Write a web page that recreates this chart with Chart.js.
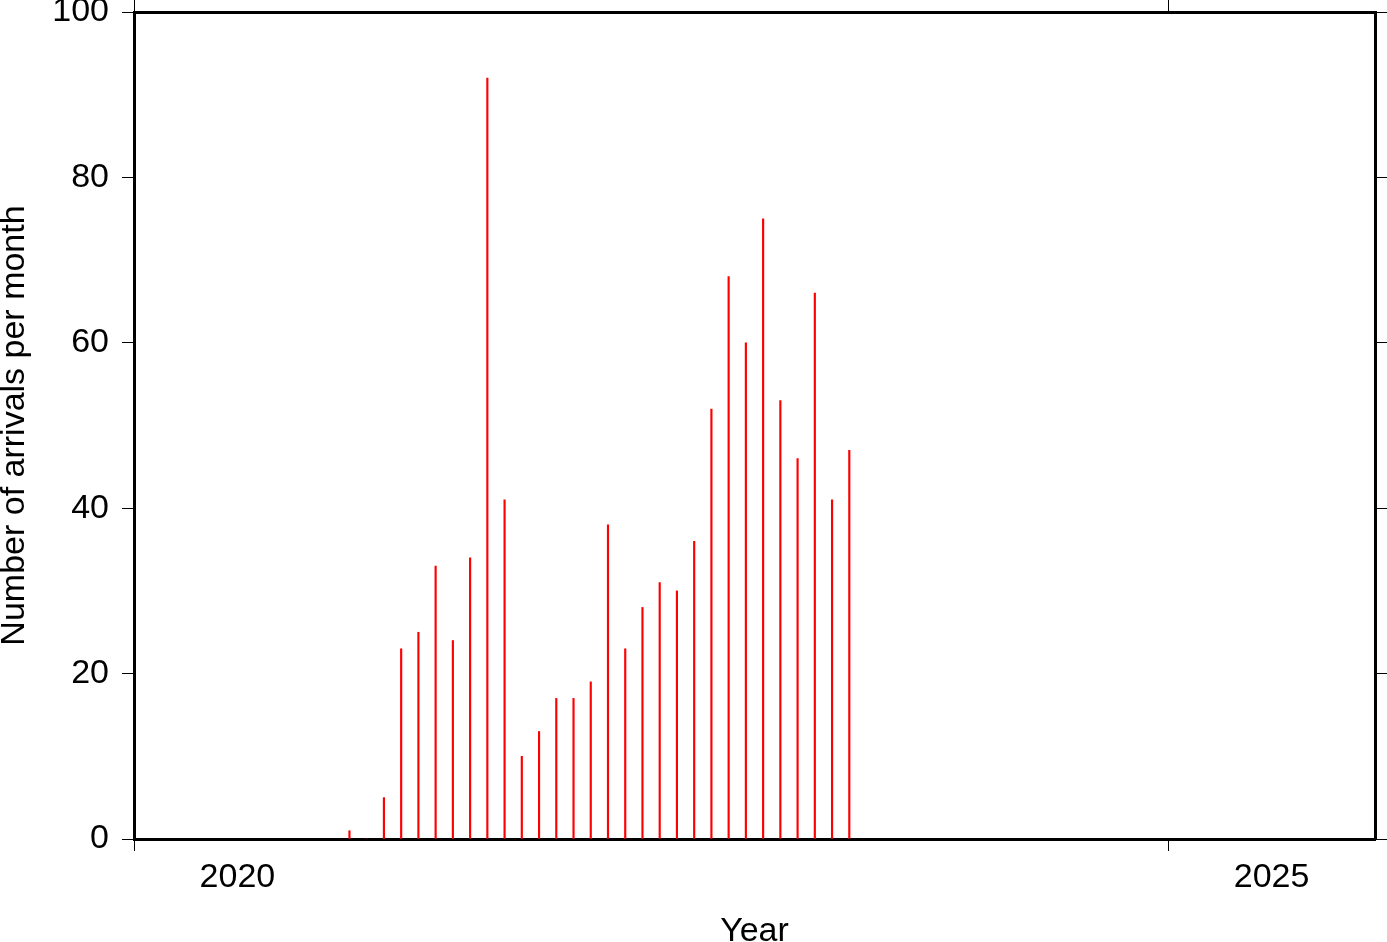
<!DOCTYPE html>
<html><head><meta charset="utf-8">
<script src="https://cdn.jsdelivr.net/npm/chart.js@4/dist/chart.umd.min.js"></script>
<style>html,body{margin:0;padding:0;background:#fff}#wrap{width:1387px;height:942px;position:relative}</style>
</head><body><div id="wrap"><canvas id="c"></canvas></div>
<script>
// ---- data ----
const months = ['2021-01','2021-02','2021-03','2021-04','2021-05','2021-06','2021-07','2021-08','2021-09','2021-10','2021-11','2021-12',
                '2022-01','2022-02','2022-03','2022-04','2022-05','2022-06','2022-07','2022-08','2022-09','2022-10','2022-11','2022-12',
                '2023-01','2023-02','2023-03','2023-04','2023-05','2023-06'];
const arrivals = [1,0,5,23,25,33,24,34,92,41,10,13,
                  17,17,19,38,23,28,31,30,36,52,68,60,
                  75,53,46,66,41,47];
const xTickYears = [2020, 2025];
const xRange = [2020, 2026];
const yTicks = [0, 20, 40, 60, 80, 100];
const xTitle = 'Year';
const yTitle = 'Number of arrivals per month';

// month label -> decimal year (middle of month)
function monthToYear(s){ const [y,m] = s.split('-').map(Number); return y + (m - 0.5) / 12; }
const points = months.map((m, i) => ({x: monthToYear(m), y: arrivals[i]}));

Chart.defaults.font.family = '"Liberation Sans", Arial, Helvetica, sans-serif';
Chart.defaults.font.size = 34;
Chart.defaults.color = '#000';

const xTickList = () => xTickYears.flatMap(y => [{value: y}, {value: y + 0.5}]);
const isMajor = ctx => ctx.tick && Number.isInteger(ctx.tick.value);

new Chart(document.getElementById('c'), {
  type: 'bar',
  data: { datasets: [{ data: points, backgroundColor: '#ff0000', barThickness: 1.5, borderWidth: 0 }] },
  options: {
    responsive: true, maintainAspectRatio: false, animation: false, devicePixelRatio: 1,
    layout: { padding: 0 },
    plugins: { legend: { display: false }, tooltip: { enabled: false } },
    scales: {
      x: {
        type: 'linear', position: 'bottom', min: xRange[0], max: xRange[1], offset: false,
        afterBuildTicks: s => { s.ticks = xTickList(); },
        afterFit: s => { s.height = 103; s.paddingLeft = 0; s.paddingRight = 0; },
        ticks: { autoSkip: false, maxRotation: 0, padding: 6,
          callback: v => (Math.abs(v % 1 - 0.5) < 1e-9) ? String(Math.floor(v)) : '' },
        grid: { offset: false, drawOnChartArea: false, tickLength: 12, tickWidth: 1,
          tickColor: ctx => isMajor(ctx) ? '#000' : 'rgba(0,0,0,0)' },
        border: { display: true, color: '#000', width: 3 },
        title: { display: true, text: xTitle, font: { size: 34, lineHeight: 1 }, padding: { top: 0, bottom: -6.5 } }
      },
      x2: {
        type: 'linear', position: 'top', min: xRange[0], max: xRange[1], offset: false,
        afterBuildTicks: s => { s.ticks = xTickYears.map(v => ({value: v})); },
        afterFit: s => { s.height = 12; s.paddingLeft = 0; s.paddingRight = 0; },
        ticks: { display: false },
        grid: { offset: false, drawOnChartArea: false, tickLength: 12, tickWidth: 1, tickColor: '#000' },
        border: { display: true, color: '#000', width: 3 }
      },
      y: {
        type: 'linear', position: 'left', min: yTicks[0], max: yTicks[yTicks.length - 1],
        afterBuildTicks: s => { s.ticks = yTicks.map(v => ({value: v})); },
        afterFit: s => { s.width = 134; s.paddingTop = 0; s.paddingBottom = 0; },
        ticks: { padding: 13 },
        grid: { drawOnChartArea: false, tickLength: 12, tickWidth: 1, tickColor: '#000' },
        border: { display: true, color: '#000', width: 3 },
        title: { display: true, text: yTitle, font: { size: 34, lineHeight: 1 }, padding: { top: -2.5, bottom: 0 } }
      },
      y2: {
        type: 'linear', position: 'right', min: yTicks[0], max: yTicks[yTicks.length - 1],
        afterBuildTicks: s => { s.ticks = yTicks.map(v => ({value: v})); },
        afterFit: s => { s.width = 12; s.paddingTop = 0; s.paddingBottom = 0; },
        ticks: { display: false },
        grid: { drawOnChartArea: false, tickLength: 12, tickWidth: 1, tickColor: '#000' },
        border: { display: true, color: '#000', width: 3 }
      }
    }
  }
});
</script>
</body></html>
